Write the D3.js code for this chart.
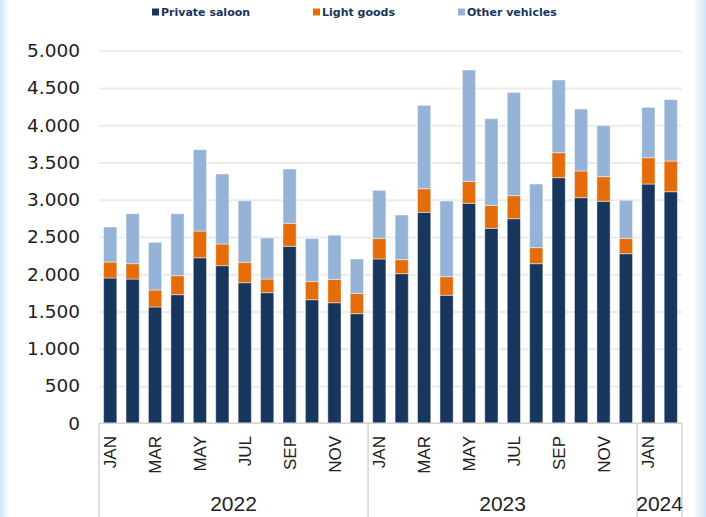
<!DOCTYPE html>
<html>
<head>
<meta charset="utf-8">
<script src="https://cdn.jsdelivr.net/npm/d3@7"></script>
<style>
  body { margin: 0; background: #fff; }
  svg { display: block; }
</style>
</head>
<body>
<div id="chart"></div>
<script>
// monthly registrations, Jan 2022 - Feb 2024
var months = ["JAN","FEB","MAR","APR","MAY","JUN","JUL","AUG","SEP","OCT","NOV","DEC",
              "JAN","FEB","MAR","APR","MAY","JUN","JUL","AUG","SEP","OCT","NOV","DEC",
              "JAN","FEB"];
var years = ["2022","2022","2022","2022","2022","2022","2022","2022","2022","2022","2022","2022",
             "2023","2023","2023","2023","2023","2023","2023","2023","2023","2023","2023","2023",
             "2024","2024"];
var privateSaloon = [1950,1936,1561,1726,2222,2115,1887,1753,2375,1659,1618,1471,
                     2205,2008,2831,1718,2952,2617,2746,2142,3296,3028,2979,2276,3211,3108];
var lightGoods = [214,206,228,255,358,291,273,183,309,246,314,273,
                  277,188,317,250,295,308,309,215,336,358,331,206,353,412];
var otherVehicles = [470,671,640,832,1092,939,827,551,729,575,593,461,
                     644,599,1119,1015,1494,1163,1386,854,975,832,684,510,676,823];
var seriesNames = ["Private saloon","Light goods","Other vehicles"];
var seriesColors = ["#17365d","#e46c0a","#95b3d7"];
var yTicks = [0,500,1000,1500,2000,2500,3000,3500,4000,4500,5000];

var width = 706, height = 517;
var plotLeft = 99, plotRight = 682, plotTop = 50.7, plotBottom = 423.3;

var svg = d3.select("#chart").append("svg")
  .attr("width", width)
  .attr("height", height);

// soft blue frame on both sides
var defs = svg.append("defs");
var gl = defs.append("linearGradient").attr("id", "gl");
gl.append("stop").attr("offset", "0").attr("stop-color", "#cfe6f7");
gl.append("stop").attr("offset", "1").attr("stop-color", "#ffffff");
var gr = defs.append("linearGradient").attr("id", "gr");
gr.append("stop").attr("offset", "0").attr("stop-color", "#ffffff");
gr.append("stop").attr("offset", "1").attr("stop-color", "#cfe6f7");
svg.append("rect").attr("x", 0).attr("y", 0).attr("width", 9).attr("height", height).attr("fill", "url(#gl)");
svg.append("rect").attr("x", 693).attr("y", 0).attr("width", 13).attr("height", height).attr("fill", "url(#gr)");

var rows = months.map(function(m, i){
  return { key: i, month: m, year: years[i],
           p: privateSaloon[i], l: lightGoods[i], o: otherVehicles[i] };
});

var x = d3.scaleBand()
  .domain(rows.map(function(d){ return d.key; }))
  .range([plotLeft, plotRight])
  .paddingInner(0.41)
  .paddingOuter(0.205);

var y = d3.scaleLinear().domain([0, 5000]).range([plotBottom, plotTop]);

// gridlines + y labels
var fmt = function(v){ return d3.format(",")(v).replace(/,/g, "."); };
var yAxis = d3.axisLeft(y).tickValues(yTicks).tickSize(-(plotRight - plotLeft)).tickPadding(19).tickFormat(fmt);
var gy = svg.append("g").attr("transform", "translate(" + plotLeft + ",0)").call(yAxis);
gy.select(".domain").remove();
gy.selectAll(".tick line").attr("stroke", "#ececec").attr("stroke-width", 2);
gy.selectAll(".tick text")
  .attr("font-family", "DejaVu Sans, Verdana, sans-serif")
  .attr("font-size", "18.5px")
  .attr("fill", "#222");
gy.selectAll(".tick").filter(function(d){ return d === 0; }).select("line").remove();

// stacked bars
var stack = d3.stack().keys(["p","l","o"]);
var layers = stack(rows);

svg.append("g").selectAll("g")
  .data(layers)
  .enter().append("g")
  .attr("fill", function(d, i){ return seriesColors[i]; })
  .selectAll("rect")
  .data(function(d){ return d; })
  .enter().append("rect")
  .attr("x", function(d){ return x(d.data.key); })
  .attr("width", x.bandwidth())
  .attr("y", function(d){ return y(d[1]); })
  .attr("height", function(d){ return y(d[0]) - y(d[1]); })
  .attr("stroke", "#ffffff")
  .attr("stroke-opacity", 0.45)
  .attr("stroke-width", 1);

// category axis with year boxes
var axisColor = "#d4d4d4";
svg.append("line")
  .attr("x1", plotLeft).attr("x2", plotRight).attr("y1", plotBottom).attr("y2", plotBottom)
  .attr("stroke", axisColor).attr("stroke-width", 1.5);

var yearNames = ["2022","2023","2024"];
var groups = yearNames.map(function(yr){
  var idx = rows.filter(function(d){ return d.year === yr; }).map(function(d){ return d.key; });
  var step = x.step();
  var x0 = x(idx[0]) - step * x.paddingInner() / 2;
  var x1 = x(idx[idx.length - 1]) + x.bandwidth() + step * x.paddingInner() / 2;
  if (idx[0] === 0) x0 = plotLeft;
  if (idx[idx.length - 1] === rows.length - 1) x1 = plotRight;
  return { year: yr, x0: x0, x1: x1 };
});

var seps = [plotLeft].concat(groups.map(function(g){ return g.x1; }));
svg.append("g").selectAll("line")
  .data(seps)
  .enter().append("line")
  .attr("x1", function(d){ return d; }).attr("x2", function(d){ return d; })
  .attr("y1", plotBottom).attr("y2", height)
  .attr("stroke", axisColor).attr("stroke-width", 1.5);

svg.append("g").selectAll("text")
  .data(rows.filter(function(d, i){ return i % 2 === 0; }))
  .enter().append("text")
  .attr("transform", function(d){
    return "translate(" + (x(d.key) + x.bandwidth() / 2) + ",436) rotate(-90)";
  })
  .attr("text-anchor", "end")
  .attr("dy", "0.36em")
  .attr("font-family", "Liberation Sans, Arial, sans-serif")
  .attr("font-size", "17px")
  .attr("fill", "#222")
  .text(function(d){ return d.month; });

svg.append("g").selectAll("text")
  .data(groups)
  .enter().append("text")
  .attr("x", function(d){ return (d.x0 + d.x1) / 2; })
  .attr("y", 511)
  .attr("text-anchor", "middle")
  .attr("font-family", "Liberation Sans, Arial, sans-serif")
  .attr("font-size", "21px")
  .attr("fill", "#222")
  .text(function(d){ return d.year; });

// legend
var legendX = [152, 313, 458];
var legend = svg.append("g").selectAll("g")
  .data(seriesNames)
  .enter().append("g")
  .attr("transform", function(d, i){ return "translate(" + legendX[i] + ",12)"; });
legend.append("rect")
  .attr("x", 0).attr("y", -3.5).attr("width", 7).attr("height", 7)
  .attr("fill", function(d, i){ return seriesColors[i]; });
legend.append("text")
  .attr("x", 9).attr("dy", "0.36em")
  .attr("font-family", "DejaVu Sans, Verdana, sans-serif")
  .attr("font-weight", "bold")
  .attr("font-size", "11px")
  .attr("fill", "#17365d")
  .text(function(d){ return d; });
</script>
</body>
</html>
